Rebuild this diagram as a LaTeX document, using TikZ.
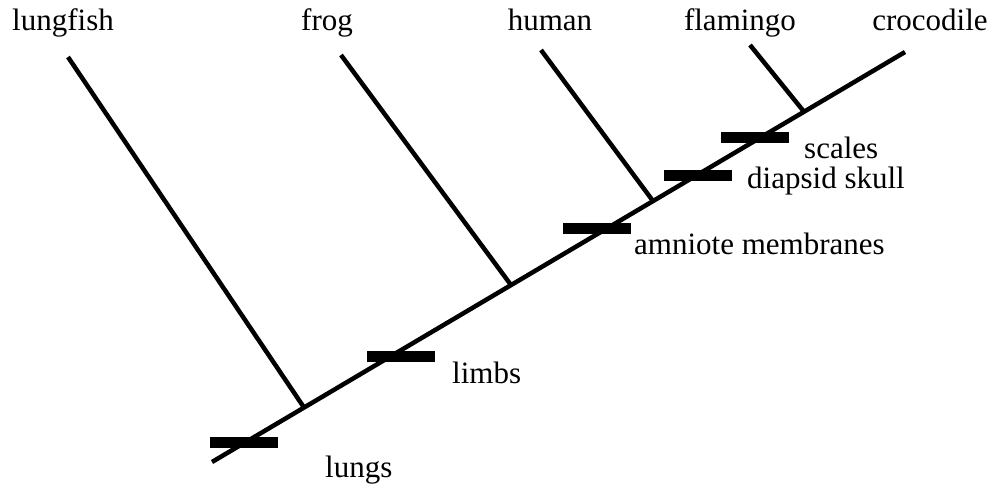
\documentclass[tikz,border=0pt]{standalone}
\usepackage{fontspec}
\setmainfont{Liberation Serif}
\usetikzlibrary{calc}

\begin{document}
\begin{tikzpicture}[x=1pt,y=-1pt,
  taxon/.style={anchor=base,inner sep=0pt,font=\fontsize{31}{37}\selectfont},
  trait/.style={anchor=base west,inner sep=0pt,font=\fontsize{31}{37}\selectfont},
  bar/.style={fill=black,inner sep=0pt,minimum width=68pt,minimum height=11pt},
  branch/.style={line width=4.5pt}]
  \useasboundingbox (0,0) rectangle (995,487);

  % main stem
  \coordinate (root) at (212,462);
  \coordinate (top) at (905,52);
  \draw[branch] (root)--(top);

  % taxa
  \node[taxon] (lungfish) at (63,31) {lungfish};
  \node[taxon] (frog) at (327,31) {frog};
  \node[taxon] (human) at (550,31) {human};
  \node[taxon] (flamingo) at (740,31) {flamingo};
  \node[taxon] (crocodile) at (930,31) {crocodile};

  \coordinate (tlungfish) at (68,57);
  \coordinate (tfrog) at (341,55);
  \coordinate (thuman) at (541,50);
  \coordinate (tflamingo) at (750,45);

  \coordinate (jlungfish) at ($(root)!0.1328!(top)$);
  \coordinate (jfrog) at ($(root)!0.4315!(top)$);
  \coordinate (jhuman) at ($(root)!0.6364!(top)$);
  \coordinate (jflamingo) at ($(root)!0.8543!(top)$);

  \draw[branch] (tlungfish)--(jlungfish);
  \draw[branch] (tfrog)--(jfrog);
  \draw[branch] (thuman)--(jhuman);
  \draw[branch] (tflamingo)--(jflamingo);

  % characters
  \node[bar] (blungs) at (244,442) {};
  \node[bar] (blimbs) at (401,356) {};
  \node[bar] (bamniote) at (597,228) {};
  \node[bar] (bdiapsid) at (698,175) {};
  \node[bar] (bscales) at (755,137) {};

  \node[trait] (lungs) at (325,477) {lungs};
  \node[trait] (limbs) at (452,383) {limbs};
  \node[trait] (amniote) at (634,254) {amniote membranes};
  \node[trait] (diapsid) at (747,188) {diapsid skull};
  \node[trait] (scales) at (804,158) {scales};
\end{tikzpicture}
\end{document}
